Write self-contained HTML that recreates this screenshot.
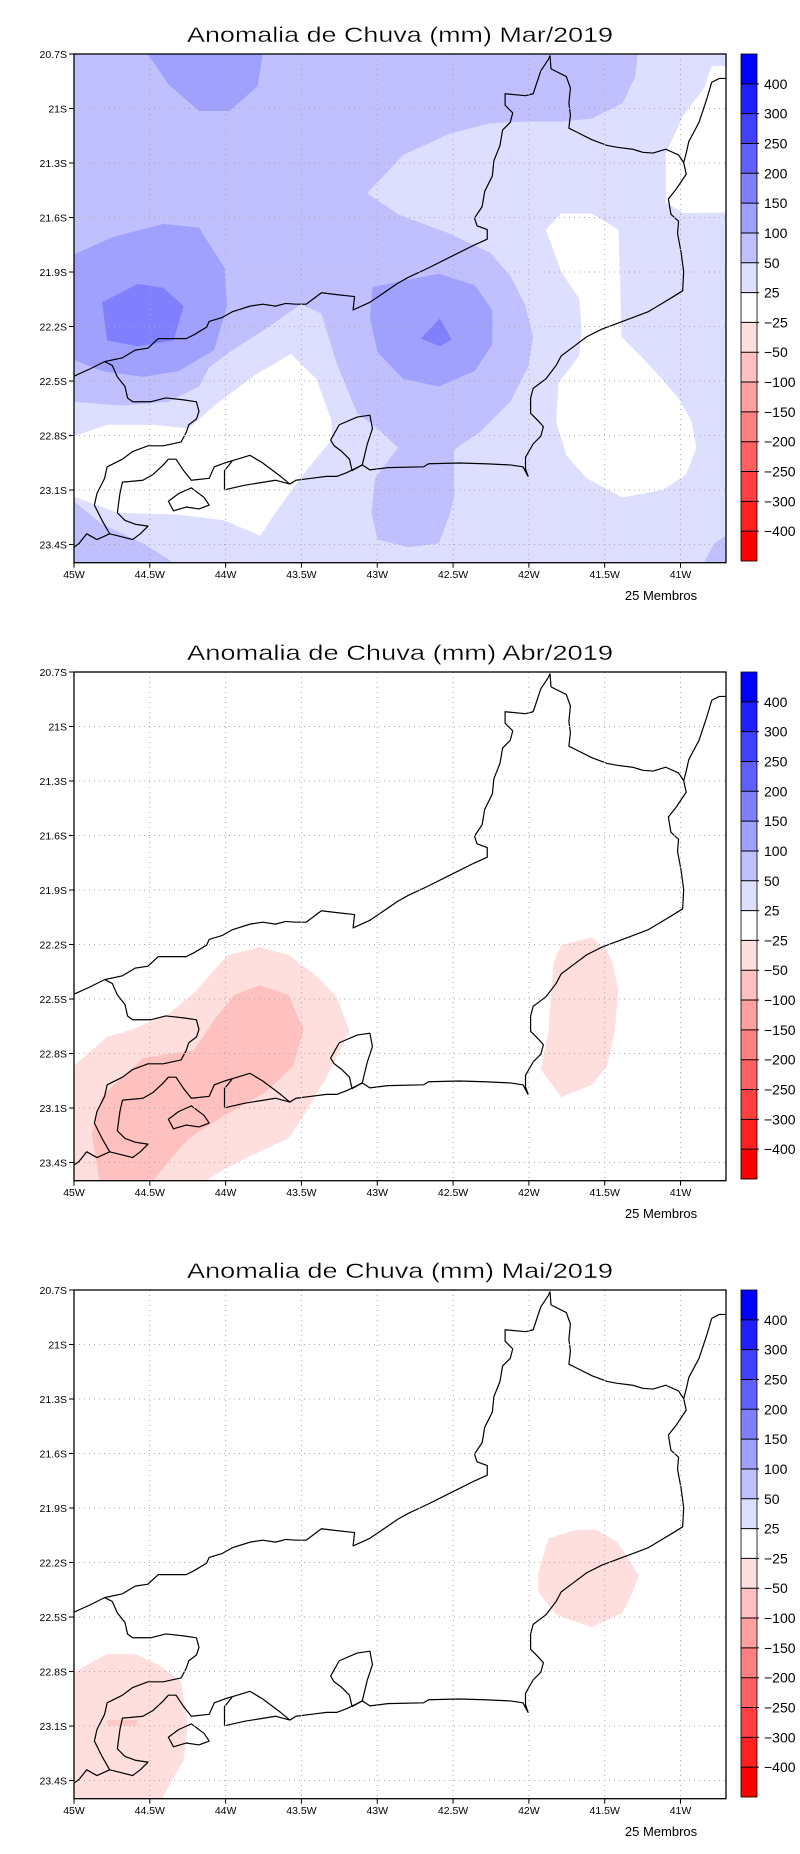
<!DOCTYPE html>
<html><head><meta charset="utf-8"><style>
html,body{margin:0;padding:0;background:#fff;}
svg{display:block;}
text{font-family:"Liberation Sans",sans-serif;fill:#000;}
</style></head><body>
<svg id="root" xmlns="http://www.w3.org/2000/svg" width="800" height="1854" viewBox="0 0 800 1854"></svg>
<script>
// ---- data ----
const months = ["Mar/2019","Abr/2019","Mai/2019"];
const cbLevels = ["400","300","250","200","150","100","50","25","-25","-50","-100","-150","-200","-250","-300","-400"];
const cbColors = ["#0000ff","#2020ff","#4040ff","#6060ff","#8080ff","#a0a0ff","#c0c0ff","#dedeff","#ffffff","#ffdede","#ffc0c0","#ffa0a0","#ff8080","#ff6060","#ff4040","#ff2020","#ff0000"];
const latTicks = ["20.7S","21S","21.3S","21.6S","21.9S","22.2S","22.5S","22.8S","23.1S","23.4S"];
const lonTicks = ["45W","44.5W","44W","43.5W","43W","42.5W","42W","41.5W","41W"];
// contour regions per month (map-frame coordinates), [color, points]
const regionsMar = [
 ["#dedeff","145,142 1422,142 1422,1470 145,1470"],
 ["#c0c0ff","145,142 1250,142 1245,200 1220,270 1160,310 1100,318 1030,318 960,322 880,350 790,405 720,505 780,560 880,610 960,660 1000,720 1030,800 1045,880 1035,960 1000,1050 940,1130 890,1175 890,1300 880,1350 860,1420 800,1430 740,1410 728,1340 735,1250 780,1170 740,1120 700,1080 660,950 630,820 590,795 520,860 450,920 410,960 390,1010 330,1050 240,1060 145,1050"],
 ["#c0c0ff","145,1310 200,1370 280,1420 340,1470 145,1470"],
 ["#c0c0ff","1380,1470 1400,1420 1422,1400 1422,1470"],
 ["#ffffff","145,1140 210,1110 300,1110 370,1120 420,1060 500,980 570,925 620,990 650,1100 650,1150 600,1230 545,1330 510,1400 440,1360 350,1345 230,1340 150,1300 145,1300"],
 ["#ffffff","1070,600 1100,558 1160,558 1212,600 1215,710 1218,880 1270,950 1330,1040 1355,1100 1365,1170 1345,1240 1300,1280 1220,1300 1150,1250 1110,1190 1090,1100 1095,1000 1135,930 1140,860 1135,780 1100,710"],
 ["#ffffff","1395,172 1422,172 1422,555 1340,557 1305,530 1305,400 1340,300 1380,230"],
 ["#a0a0ff","290,142 515,142 505,225 450,290 390,290 330,220"],
 ["#a0a0ff","145,665 220,620 320,585 390,595 440,700 445,800 420,915 350,970 280,985 200,970 145,940"],
 ["#a0a0ff","730,750 860,715 930,745 965,810 965,900 930,970 860,1010 790,990 740,920 725,830"],
 ["#8080ff","200,790 270,742 320,752 360,800 340,890 270,905 210,890"],
 ["#8080ff","825,885 862,832 885,888 862,905"]
];
const regionsAbr = [
 ["#ffdede","145,1170 210,1095 260,1075 330,1035 380,980 445,882 510,860 565,880 620,935 660,990 685,1080 640,1200 600,1290 565,1360 500,1400 440,1440 405,1470 145,1470"],
 ["#ffc0c0","195,1470 180,1350 200,1250 280,1150 380,1130 420,1050 460,985 508,960 565,985 595,1075 575,1170 520,1240 440,1300 370,1360 330,1420 300,1470"],
 ["#ffdede","1100,855 1160,835 1190,870 1200,900 1212,970 1205,1080 1190,1170 1160,1220 1100,1252 1060,1180 1075,1080 1085,900"]
];
const regionsMai = [
 ["#ffdede","145,1140 210,1092 265,1093 310,1120 355,1165 368,1280 360,1370 330,1440 318,1470 145,1470"],
 ["#ffc8c8","210,1265 270,1265 270,1280 210,1280"],
 ["#ffdede","1075,790 1130,768 1170,768 1210,800 1235,850 1252,888 1240,930 1220,985 1160,1022 1090,990 1055,930 1055,880"]
];
const allRegions = [regionsMar, regionsAbr, regionsMai];
const coastPaths = [
 "M145,983 L175,965 205,945 240,935 265,915 290,910 310,885 330,885 365,885 380,875 405,855 410,840 435,830 455,815 490,800 515,795 540,800 560,793 580,795 600,795 630,765 660,770 695,775 692,810 725,790 780,740 800,725 840,700 870,680 900,660 930,640 955,625 955,600 935,590 930,570 945,540 950,500 965,460 968,420 980,380 985,340 1000,320 1005,295 990,275 990,245 1030,250 1045,245 1060,185 1075,155 1078,145",
 "M1078,145 L1080,180 1110,200 1118,230 1115,270 1118,300 1115,335 1130,345 1160,365 1190,380 1210,385 1240,390 1260,398 1280,400 1305,390 1330,405 1340,425 1345,455 1335,475 1325,495 1310,520 1315,560 1330,578 1328,610 1335,660 1340,710 1338,760 1320,775 1295,795 1270,815 1220,840 1180,860 1150,880 1125,905 1100,930 1090,955 1070,990 1045,1015 1040,1040 1040,1080 1055,1100 1065,1115 1060,1140 1045,1160 1030,1195 1030,1225 1035,1245 1025,1220 1000,1215 950,1212 900,1210 840,1212 830,1220 760,1222 725,1228 710,1215 695,1225 680,1235 660,1245 640,1245 610,1250 580,1255 568,1265 550,1245 515,1210 490,1190 465,1200 440,1210 420,1220 410,1250 375,1255 360,1230 345,1200 330,1200 320,1215 300,1240 280,1255 240,1260 235,1290 230,1340 245,1360 265,1370 290,1375 275,1395 260,1410 230,1400 215,1395 200,1360 185,1320 190,1290 205,1250 210,1220 240,1200 260,1180 290,1165 320,1165 355,1155 365,1130 370,1110 385,1095 390,1075 385,1050 360,1045 325,1040 295,1050 260,1050 250,1040 245,1010 230,985 220,955 205,945",
 "M215,1395 L190,1410 170,1395 155,1420 145,1430",
 "M440,1280 L480,1268 540,1255 568,1265",
 "M440,1280 L440,1230 455,1205",
 "M648,1150 L665,1110 700,1090 725,1085 730,1120 720,1160 710,1215 690,1230 685,1200 670,1180 655,1165 Z",
 "M1395,215 L1410,205 1422,205 M1395,215 L1385,260 1370,320 1350,370 1345,400 1340,425",
 "M330,1310 L350,1290 375,1275 400,1300 410,1320 390,1330 365,1325 340,1335 Z"
];
// ---- layout constants (pixels) ----
const PANEL_DY = 618, MX0 = 74, MX1 = 726, MY0 = 54, MY1 = 562.7;
const NS = "http://www.w3.org/2000/svg";
const root = document.getElementById('root');
function mk(tag, attrs, parent){const e=document.createElementNS(NS,tag);for(const k in attrs)e.setAttribute(k,attrs[k]);parent.appendChild(e);return e;}
const xScale = i => MX0 + i*(MX1-MX0)/4.3*0.5;
const yScale = i => MY0 + i*(MY1-MY0)/2.8*0.3;

months.forEach((m, p) => {
  const g = mk('g', {transform:`translate(0,${p*PANEL_DY})`}, root);
  
  
  const t = mk('text', {x:400, y:42, 'text-anchor':'middle', 'font-size':21, textLength:426, lengthAdjust:'spacingAndGlyphs', stroke:'#fff', 'stroke-width':0.3}, g);
  t.textContent = 'Anomalia de Chuva (mm) ' + m;
  
  
  const ms = mk('svg', {x:0, y:0, width:800, height:600, viewBox:'0 0 1568 1568', preserveAspectRatio:'none'}, g);
  
  
  mk('rect', {x:145, y:142, width:1277, height:1328, fill:'#fff'}, ms);
  allRegions[p].forEach(r => {
    const poly = mk('polygon', {points:r[1], fill:r[0]}, ms);
    
    
  });
  coastPaths.forEach(d => {
    const pa = mk('path', {d:d, fill:'none', stroke:'#000', 'stroke-width':1.2, 'vector-effect':'non-scaling-stroke', 'stroke-linejoin':'round'}, ms);
    
    
  });
  latTicks.forEach((lab, i) => {
    const y = yScale(i);
    if (i > 0) mk('line', {x1:MX0, x2:MX1, y1:y, y2:y, stroke:'#aaa', 'stroke-width':1, 'stroke-dasharray':'1,4'}, g);
    mk('line', {x1:MX0-5, x2:MX0, y1:y, y2:y, stroke:'#000'}, g);
    const tx = mk('text', {x:67, y:y+4, 'text-anchor':'end', 'font-size':10.5}, g);
    tx.textContent = lab;
    
    
  });
  lonTicks.forEach((lab, i) => {
    const x = xScale(i);
    if (i > 0) mk('line', {x1:x, x2:x, y1:MY0, y2:MY1, stroke:'#aaa', 'stroke-width':1, 'stroke-dasharray':'1,4'}, g);
    mk('line', {x1:x, x2:x, y1:MY1, y2:MY1+5, stroke:'#000'}, g);
    const tx = mk('text', {x:x, y:578, 'text-anchor':'middle', 'font-size':10.5}, g);
    tx.textContent = lab;
    
    
  });
  mk('rect', {x:MX0, y:MY0, width:MX1-MX0, height:MY1-MY0, fill:'none', stroke:'#000', 'stroke-width':1.3}, g);
  const mem = mk('text', {x:661, y:600, 'text-anchor':'middle', 'font-size':13}, g);
  mem.textContent = '25 Membros';
  
  
  const cb = mk('g', {}, g);
  
  
  const segH = (561 - 54) / cbColors.length;
  cbColors.forEach((c, i) => {
    const r = mk('rect', {x:741, y:54+i*segH, width:16, height:segH+0.3, fill:c}, cb);
    
    
  });
  cbLevels.forEach((lab, i) => {
    const y = 54 + (i+1)*segH;
    mk('line', {x1:741, x2:759, y1:y, y2:y, stroke:'#000', 'stroke-width':1}, cb);
    const tx = mk('text', {x:764, y:y+5, 'font-size':14}, cb);
    tx.textContent = lab.replace('-', '\u2212');
    
    
  });
  mk('rect', {x:741, y:54, width:16, height:507, fill:'none', stroke:'#000', 'stroke-width':0.8}, cb);
});
</script>
</body></html>
